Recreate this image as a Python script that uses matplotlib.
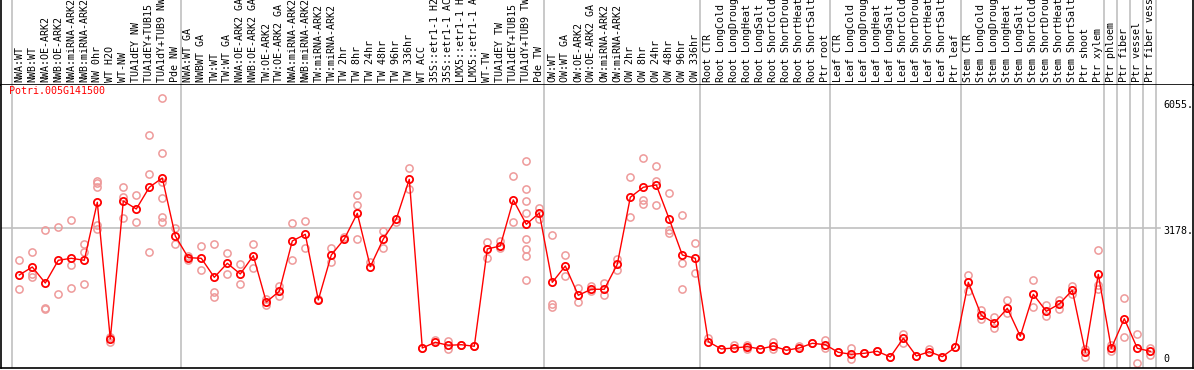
import numpy as np
import matplotlib
matplotlib.use("Agg")
import matplotlib.pyplot as plt

gene = "Potri.005G141500"

samples = [
    "NWA:WT", "NWB:WT", "NWA:OE-ARK2", "NWB:OE-ARK2", "NWA:miRNA-ARK2",
    "NWB:miRNA-ARK2", "NW 0hr", "WT H2O", "WT-NW", "TUA1dEY NW",
    "TUA1dEY+TUB15 NW", "TUA1dY+TUB9 NW", "Pde NW",
    "NWA:WT GA", "NWBWT GA", "TW:WT", "TW:WT GA", "NWA:OE-ARK2 GA",
    "NWB:OE-ARK2 GA", "TW:OE-ARK2", "TW:OE-ARK2 GA", "NWA:miRNA-ARK2",
    "NWB:miRNA-ARK2", "TW:miRNA-ARK2", "TW:miRNA-ARK2", "TW 2hr", "TW 8hr",
    "TW 24hr", "TW 48hr", "TW 96hr", "TW 336hr", "WT ACC",
    "35S::etr1-1 H2O", "35S::etr1-1 ACC", "LMX5::etr1-1 H2O",
    "LMX5::etr1-1 ACC", "WT-TW", "TUA1dEY TW", "TUA1dEY+TUB15 TW",
    "TUA1dY+TUB9 TW", "Pde TW",
    "OW:WT", "OW:WT GA", "OW:OE-ARK2", "OW:OE-ARK2 GA", "OW:miRNA-ARK2",
    "OW:miRNA-ARK2", "OW 2hr", "OW 8hr", "OW 24hr", "OW 48hr", "OW 96hr",
    "OW 336hr",
    "Root CTR", "Root LongCold", "Root LongDrought", "Root LongHeat",
    "Root LongSalt", "Root ShortCold", "Root ShortDrought", "Root ShortHeat",
    "Root ShortSalt", "Ptr root",
    "Leaf CTR", "Leaf LongCold", "Leaf LongDrought", "Leaf LongHeat",
    "Leaf LongSalt", "Leaf ShortCold", "Leaf ShortDrought", "Leaf ShortHeat",
    "Leaf ShortSalt", "Ptr leaf",
    "Stem CTR", "Stem LongCold", "Stem LongDrought", "Stem LongHeat",
    "Stem LongSalt", "Stem ShortCold", "Stem ShortDrought", "Stem ShortHeat",
    "Stem ShortSalt", "Ptr shoot", "Ptr xylem",
    "Ptr phloem", "Ptr fiber", "Ptr vessel", "Ptr fiber vessel",
]

# index of the last sample in each group (grey separators after these)
group_ends = [-1, 12, 40, 52, 62, 72, 83, 84, 85, 86, 87]

means = [
    2091, 2275, 1907, 2429, 2475, 2429, 3762, 620, 3792, 3608, 4107, 4320, 2987,
    2489, 2475, 2038, 2360, 2114, 2535, 1471, 1717, 2873, 3026, 1517, 2551,
    2918, 3509, 2282, 2918, 3378, 4290, 414, 545, 476, 489, 453, 2689, 2758,
    3815, 3256, 3516,
    1923, 2298, 1625, 1763, 1763, 2337, 3877, 4107, 4159, 3371, 2551, 2475,
    558, 391, 414, 444, 391, 460, 361, 414, 522, 489,
    315, 269, 292, 338, 207, 637, 230, 329, 214, 430,
    1923, 1165, 988, 1326, 683, 1648, 1257, 1425, 1740, 315, 2107,
    407, 1087, 407, 338,
]

replicates = [
    [2429, 1763], [2613, 2107, 2052], [3125, 1326, 1310], [3194, 1655],
    [3355, 2314, 1786], [2804, 2613, 1877], [4251, 4198, 4120, 3240, 3141],
    [673, 545], [4120, 3877, 3394], [3923, 3302], [5301, 4405, 2613],
    [6159, 4888, 4221, 3854, 3424, 3302], [3171, 2797],
    [2535, 2436], [2751, 2199], [2804, 1694, 1579], [2597, 2114],
    [2351, 1877], [2804, 2252], [1533, 1402], [1838, 1602], [3279, 2429],
    [3332, 2705], [1547], [2712, 2383], [2964], [3923, 3693, 2918], [2390],
    [3102, 2705], [3302], [4543, 4067], [414], [597], [575, 391], [489],
    [453], [2843, 2475], [2873, 2705], [4359, 3302],
    [4711, 4061, 3785, 3509, 2918, 2689, 2528, 1969], [3631, 3371],
    [3010, 1418, 1356], [2551, 2061], [1792, 1464], [1838, 1717],
    [1914, 1625], [2466, 2206], [4336, 3417], [4773, 3815, 3716],
    [4589, 4251, 3693], [3969, 3118, 3049], [3470, 2360, 1763], [2820, 2137],
    [637], [391], [483], [476, 384], [391], [558, 391], [361], [460], [535],
    [604, 421],
    [315], [407, 168], [292], [338], [207], [728, 522], [230], [391], [214],
    [430],
    [2084, 1724], [1280, 1073], [1133, 880], [1510, 1211], [683],
    [1969, 1349], [1402, 1156], [1517, 1310], [1838, 1648], [384, 214],
    [2659, 1855, 1763],
    [483, 345], [1556, 660], [728, 76], [407, 253],
]

tick_values = [6055, 3178, 0]

W, H = 1194, 370
fig = plt.figure(figsize=(W / 100, H / 100), dpi=100)
mono = "DejaVu Sans Mono"
fs = 7.2

# pixel -> data mapping
x_lo, x_hi = (1 - 19.3) / 13, (1193 - 19.3) / 13
y_lo, y_hi = -46, 6457

ax_lab = fig.add_axes([1 / W, (H - 85) / H, 1192 / W, 85 / H])
ax = fig.add_axes([1 / W, (H - 368) / H, 1192 / W, 283 / H])

for a in (ax_lab, ax):
    a.set_xlim(x_lo, x_hi)
    a.set_xticks([])
    a.set_yticks([])
    for s in a.spines.values():
        s.set_color("black")
        s.set_linewidth(1.2)
    for g in group_ends:
        a.axvline(g + 0.4, color="#c0c0c0", lw=1.2, zorder=0)

ax_lab.set_ylim(0, 85)
ax_lab.spines["top"].set_visible(False)
ax.spines["top"].set_visible(False)
ax.set_ylim(y_lo, y_hi)

# long names run past the top of the strip, as in the original
for i, name in enumerate(samples):
    ax_lab.text(i, 2.5, name, rotation=90, ha="center", va="bottom",
                fontsize=fs, family=mono, color="black", clip_on=True)

x = np.arange(len(samples))
ax.axhline(3178, xmin=0, xmax=(1160 - 1) / 1192, color="#c0c0c0", lw=1.2, zorder=0)

for i, reps in enumerate(replicates):
    ax.plot([i] * len(reps), reps, "o", ms=5.2, mfc="none", mec="#ee9a9a",
            mew=1.1, zorder=2)

ax.plot(x, means, "-", color="red", lw=1.0, zorder=3)
ax.plot(x, means, "o", ms=5.2, mfc="none", mec="red", mew=1.3, zorder=4)

ax.text(x_lo + 0.6, 6430, gene, color="red", fontsize=fs, family=mono,
        ha="left", va="top")

x_lab = (1163 - 19.3) / 13
ax.text(x_lab, tick_values[0] + 60, "6055.", fontsize=fs, family=mono, va="top", ha="left")
ax.text(x_lab, tick_values[1] + 30, "3178.", fontsize=fs, family=mono, va="top", ha="left")
ax.text(x_lab, tick_values[2] + 40, "0", fontsize=fs, family=mono, va="bottom", ha="left")

fig.savefig("out.png", dpi=100)
